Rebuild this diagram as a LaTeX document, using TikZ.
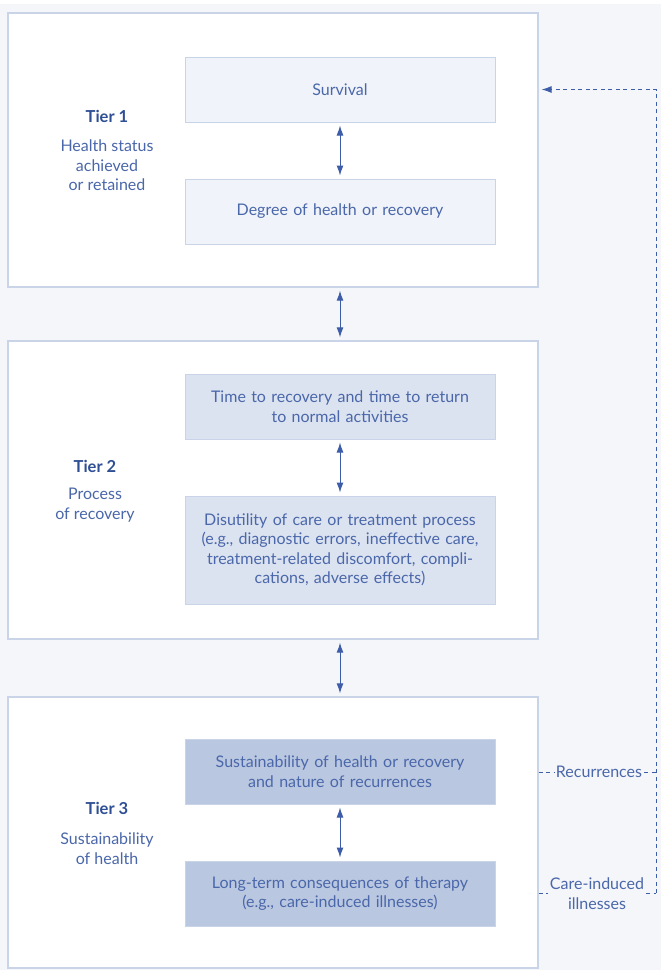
\documentclass[tikz,border=0pt]{standalone}
\usepackage{fontspec}
\setmainfont{Lato}
\usetikzlibrary{positioning,arrows.meta}
\definecolor{bgcol}{HTML}{F4F6FA}
\definecolor{edgeblue}{HTML}{CAD4E8}
\definecolor{txtblue}{HTML}{4A67AA}
\definecolor{headblue}{HTML}{2F4F95}
\definecolor{arrblue}{HTML}{3D5DA8}
\definecolor{lightfill}{HTML}{F0F3F9}
\definecolor{midfill}{HTML}{DCE3F0}
\definecolor{darkfill}{HTML}{BAC7E0}
\begin{document}
\begin{tikzpicture}[x=1pt,y=-1pt,
  every node/.style={font=\fontsize{16}{19.5}\selectfont, text=txtblue},
  tierbox/.style={draw=edgeblue, fill=white, line width=1.3pt, minimum width=530pt, inner sep=0pt},
  itembox/.style={draw=edgeblue, line width=1pt, minimum width=310pt, minimum height=65pt, text width=300pt, align=center, inner sep=0pt},
  tiertitle/.style={font=\fontsize{16.5}{19.5}\selectfont\bfseries, text=headblue},
  tiersub/.style={align=center},
  biarrow/.style={{Latex[length=10pt,width=7pt]}-{Latex[length=10pt,width=7pt]}, arrblue, line width=1pt, shorten <=3pt, shorten >=3pt},
  dashline/.style={arrblue, line width=0.9pt, dash pattern=on 4pt off 3.5pt}]
  %% page and background
  \useasboundingbox (0,0) rectangle (661,970);
  \fill[white] (0,0) rectangle (661,970);
  \fill[bgcol] (0,4) rectangle (661,970);

  %% the three tiers
  \node[tierbox, minimum height=274pt] (t1) at (273,150) {};
  \node[tierbox, minimum height=298pt] (t2) at (273,490) {};
  \node[tierbox, minimum height=271pt] (t3) at (273,832.5) {};

  % tier labels
  \node[tiertitle] (t1h) at (107,116) {Tier 1};
  \node[tiersub] (t1s) at (107,165.5) {Health status\\achieved\\or retained};
  \node[tiertitle] (t2h) at (95,466) {Tier 2};
  \node[tiersub] (t2s) at (95,505) {Process\\of recovery};
  \node[tiertitle] (t3h) at (107,808) {Tier 3};
  \node[tiersub] (t3s) at (107,848.5) {Sustainability\\of health};

  % outcome boxes
  \node[itembox, fill=lightfill] (surv) at (340,89.5) {Survival};
  \node[itembox, fill=lightfill] (degr) at (340,211.5) {Degree of health or recovery};
  \node[itembox, fill=midfill] (time) at (340,406.5) {Time to recovery and time to return\\to normal activities};
  \node[itembox, fill=midfill, minimum height=108pt] (disu) at (340,550) {Disutility of care or treatment process\\(e.g., diagnostic errors, ineffective care,\\treatment-related discomfort, compli-\\cations, adverse effects)};
  \node[itembox, fill=darkfill] (sust) at (340,771.5) {Sustainability of health or recovery\\and nature of recurrences};
  \node[itembox, fill=darkfill] (long) at (340,893.5) {Long-term consequences of therapy\\(e.g., care-induced illnesses)};

  %% arrows inside and between tiers
  \draw[biarrow] (surv) -- (degr);
  \draw[biarrow] (time) -- (disu);
  \draw[biarrow] (sust) -- (long);
  \draw[biarrow] (surv |- t1.south) -- (surv |- t2.north);
  \draw[biarrow] (surv |- t2.south) -- (surv |- t3.north);

  %% feedback loop on the right
  \node[fill=bgcol, inner xsep=2pt, inner ysep=1pt] (rec) at (599,772) {Recurrences};
  \node[fill=bgcol, align=center, inner xsep=2pt, inner ysep=0pt] (care) at (597,893.5) {Care-induced\\illnesses};
  \coordinate (fb) at (656,893);
  \draw[dashline] (t3.east |- rec) -- (rec.west);
  \draw[dashline] (rec.east) -- (fb |- rec);
  \draw[dashline] (t3.east |- fb) -- (care.west |- fb);
  \draw[dashline] (care.east |- fb) -- (fb);
  \draw[dashline, -{Latex[length=10pt,width=7pt]}] (fb) |- ([xshift=3pt]t1.east |- surv);
\end{tikzpicture}
\end{document}
